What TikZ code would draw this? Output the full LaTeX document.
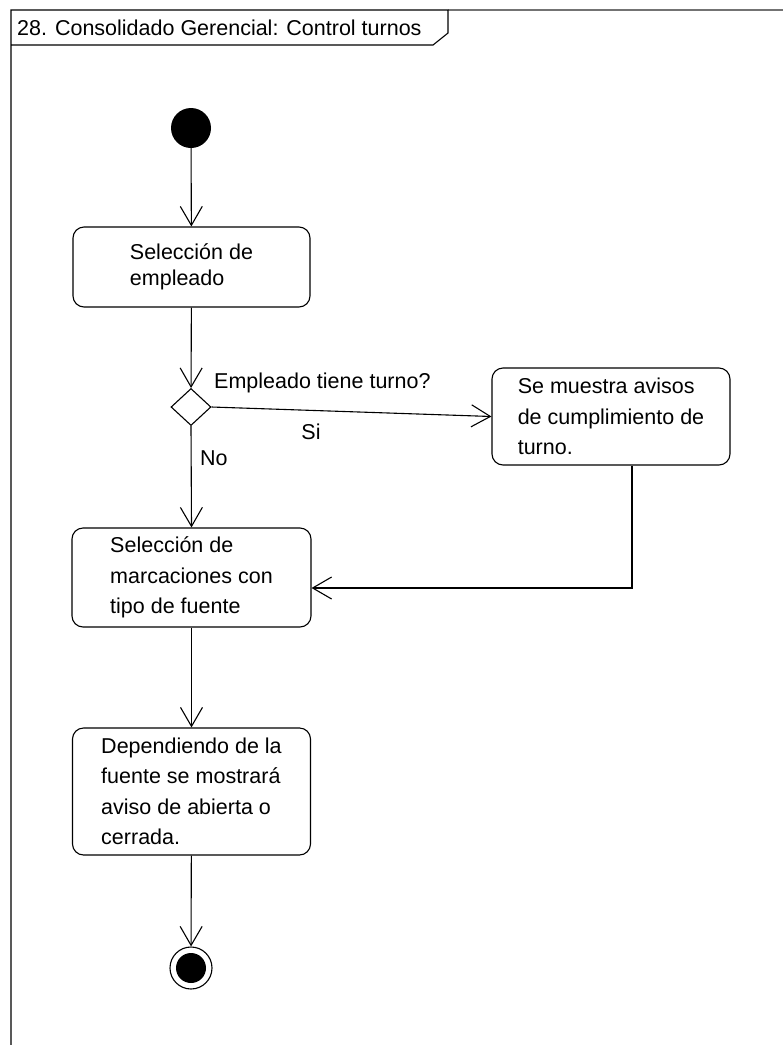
\documentclass[tikz,border=0pt]{standalone}
\usepackage{fontspec}
\setmainfont{Liberation Sans}
\usetikzlibrary{arrows.meta,positioning,shapes.geometric}

\begin{document}
\begin{tikzpicture}[x=1pt, y=-1pt,
    font=\fontsize{21.5}{30.5}\selectfont,
    accion/.style={draw, line width=1.1pt, rounded corners=11pt, align=left, inner sep=0pt},
    flujo/.style={line width=1.1pt, -{Straight Barb[length=19pt, width=22pt, line width=1.1pt]}},
    rotulo/.style={inner sep=0pt}]
      \useasboundingbox (0,0) rectangle (783,1045);

      % Marco del diagrama con su pestana de titulo
      \draw[line width=1.1pt, black!55] (448,10) -- (783,10);
      \draw[line width=1.1pt] (11,1045) -- (11,10) -- (448,10) -- (448,33) -- (433,45) -- (11,45);
      \node[rotulo, anchor=west] (titulo) at (17,27.5) {28. Consolidado Gerencial: Control turnos};

      % Estados inicial y final
      \node[circle, fill=black, minimum size=40pt, inner sep=0pt] (inicio) at (191,128) {};
      \node[circle, draw, line width=1.1pt, minimum size=42pt, inner sep=0pt] (fin) at (191,968) {};
      \fill (fin.center) circle (15pt);

      % Actividades
      \node[accion, minimum width=237pt, minimum height=80pt] (empleado) at (191.5,267)
        {Selección de\\[-4pt]empleado};
      \node[diamond, draw, line width=1.1pt, minimum width=40pt, minimum height=37pt, inner sep=0pt] (turno) at (191,407) {};
      \node[accion, minimum width=238pt, minimum height=97pt] (avisos) at (611,416.5)
        {Se muestra avisos\\de cumplimiento de\\turno.};
      \node[accion, minimum width=239pt, minimum height=99pt] (marcas) at (191.5,577.5)
        {Selección de\\marcaciones con\\tipo de fuente};
      \node[accion, minimum width=238pt, minimum height=127pt] (fuente) at (191.5,791.5)
        {Dependiendo de la\\fuente se mostrará\\aviso de abierta o\\cerrada.};

      % Transiciones
      \draw[flujo] (inicio) -- (empleado);
      \draw[flujo] (empleado) -- (turno);
      \draw[flujo] (turno.east) -- (avisos.west);
      \draw[flujo] (turno.south) -- (marcas.north);
      \draw[flujo] ([xshift=21pt]avisos.south) |- ([yshift=-10.5pt]marcas.east);
      \draw[flujo] (marcas) -- (fuente);
      \draw[flujo] (fuente) -- (fin);

      % Guardas
      \node[rotulo, anchor=west] (pregunta) at (214,383) {Empleado tiene turno?};
      \node[rotulo] (si) at (311,432) {Si};
      \node[rotulo, anchor=west] (no) at (200,458) {No};
\end{tikzpicture}
\end{document}
